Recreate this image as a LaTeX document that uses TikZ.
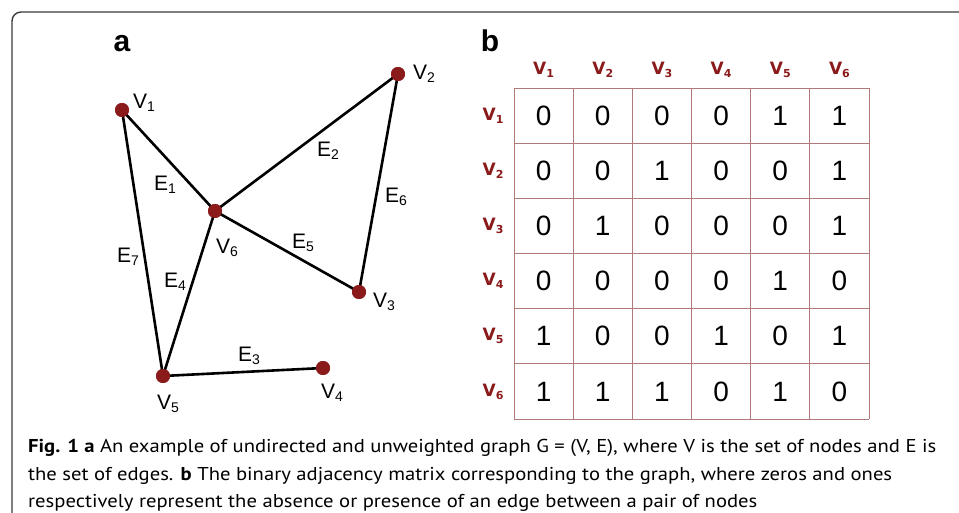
\documentclass[tikz,border=0pt]{standalone}
\usepackage{fontspec}
\setmainfont{Liberation Sans}
\newfontfamily\hdrfont{DejaVu Sans}
\newfontfamily\capfont{PT Sans}
\definecolor{vertexred}{HTML}{8B1A1A}
\definecolor{gridred}{HTML}{B07A7A}
\definecolor{framegray}{HTML}{3A3A3A}
% label with a lowered index
\newcommand{\gsub}[2]{#1\raisebox{-3pt}{\fontsize{14}{14}\selectfont #2}}
\newcommand{\hsub}[2]{#1\raisebox{-3pt}{\fontsize{11}{11}\selectfont #2}}
\newcommand{\capwide}[1]{\scalebox{1.11}[1]{#1}}
\begin{document}
\begin{tikzpicture}[x=1pt,y=-1pt,
  vertex/.style={circle, fill=vertexred, inner sep=0pt, minimum size=14pt},
  edge/.style={line width=2.6pt, black},
  glabel/.style={font=\fontsize{21}{21}\selectfont, inner sep=0pt},
  header/.style={font=\hdrfont\bfseries\fontsize{17}{17}\selectfont, text=vertexred, inner sep=0pt},
  cell/.style={font=\fontsize{28}{28}\selectfont, inner sep=0pt},
  panel/.style={font=\bfseries\fontsize{30}{30}\selectfont, anchor=base, inner sep=0pt},
  capline/.style={font=\capfont\fontsize{18.6}{18.6}\selectfont, anchor=base west, inner sep=0pt},
  gridline/.style={gridred, line width=0.9pt}]
  \useasboundingbox (0,0) rectangle (959,513);
  % Frame
  \draw[framegray, line width=1.4pt, rounded corners=9pt] (12,540) -- (12,12) -- (990,12);
  % Panel letters
  \node[panel] (pa) at (122,52) {a};
  \node[panel] (pb) at (490,52) {b};
  % Vertices
  \node[vertex] (v1) at (122,110) {};
  \node[vertex] (v2) at (398,74) {};
  \node[vertex] (v3) at (359,292) {};
  \node[vertex] (v4) at (323,368) {};
  \node[vertex] (v5) at (163,376) {};
  \node[vertex] (v6) at (215,211) {};
  % Edges
  \draw[edge] (v1.center) -- (v6.center);
  \draw[edge] (v6.center) -- (v2.center);
  \draw[edge] (v5.center) -- (v4.center);
  \draw[edge] (v6.center) -- (v5.center);
  \draw[edge] (v6.center) -- (v3.center);
  \draw[edge] (v2.center) -- (v3.center);
  \draw[edge] (v1.center) -- (v5.center);
  % Vertices on top of the edges
  \foreach \v in {v1,v2,v3,v4,v5,v6}
    \fill[vertexred] (\v) circle (7pt);
  % Vertex labels
  \node[glabel] (lv1) at (144,103) {\gsub{V}{1}};
  \node[glabel] (lv2) at (424,74) {\gsub{V}{2}};
  \node[glabel] (lv3) at (384,302) {\gsub{V}{3}};
  \node[glabel] (lv4) at (332,393) {\gsub{V}{4}};
  \node[glabel] (lv5) at (168,404) {\gsub{V}{5}};
  \node[glabel] (lv6) at (227,248) {\gsub{V}{6}};
  % Edge labels
  \node[glabel] (le1) at (165,185) {\gsub{E}{1}};
  \node[glabel] (le2) at (328,151) {\gsub{E}{2}};
  \node[glabel] (le3) at (249,356) {\gsub{E}{3}};
  \node[glabel] (le4) at (175,282) {\gsub{E}{4}};
  \node[glabel] (le5) at (303,243) {\gsub{E}{5}};
  \node[glabel] (le6) at (396,197) {\gsub{E}{6}};
  \node[glabel] (le7) at (128,257) {\gsub{E}{7}};
  % Adjacency matrix grid
  \def\mleft{514}
  \def\mtop{88}
  \def\cw{59.17}
  \def\ch{55.17}
  \foreach \i in {0,...,6} {
    \draw[gridline] ({\mleft+\i*\cw},\mtop) -- ({\mleft+\i*\cw},{\mtop+6*\ch});
    \draw[gridline] (\mleft,{\mtop+\i*\ch}) -- ({\mleft+6*\cw},{\mtop+\i*\ch});
  }
  % Headers
  \foreach \i in {1,...,6} {
    \node[header] (col\i) at ({\mleft+(\i-0.5)*\cw},70) {\hsub{V}{\i}};
    \node[header] (row\i) at (493,{\mtop+(\i-0.5)*\ch}) {\hsub{V}{\i}};
  }
  % Entries
  \foreach \rowvals [count=\r] in {{0,0,0,0,1,1},{0,0,1,0,0,1},{0,1,0,0,0,1},
                                   {0,0,0,0,1,0},{1,0,0,1,0,1},{1,1,1,0,1,0}}
    \foreach \val [count=\c] in \rowvals
      \node[cell] (c\r\c) at ({\mleft+(\c-0.5)*\cw},{\mtop+(\r-0.5)*\ch}) {\val};
  % Caption
  \node[capline] (cap1) at (28,452) {\capwide{\textbf{Fig. 1 a} An example of undirected and unweighted graph G = (V, E), where V is the set of nodes and E is}};
  \node[capline] (cap2) at (28,480) {\capwide{the set of edges. \textbf{b} The binary adjacency matrix corresponding to the graph, where zeros and ones}};
  \node[capline] (cap3) at (28,507) {\capwide{respectively represent the absence or presence of an edge between a pair of nodes}};
\end{tikzpicture}
\end{document}
